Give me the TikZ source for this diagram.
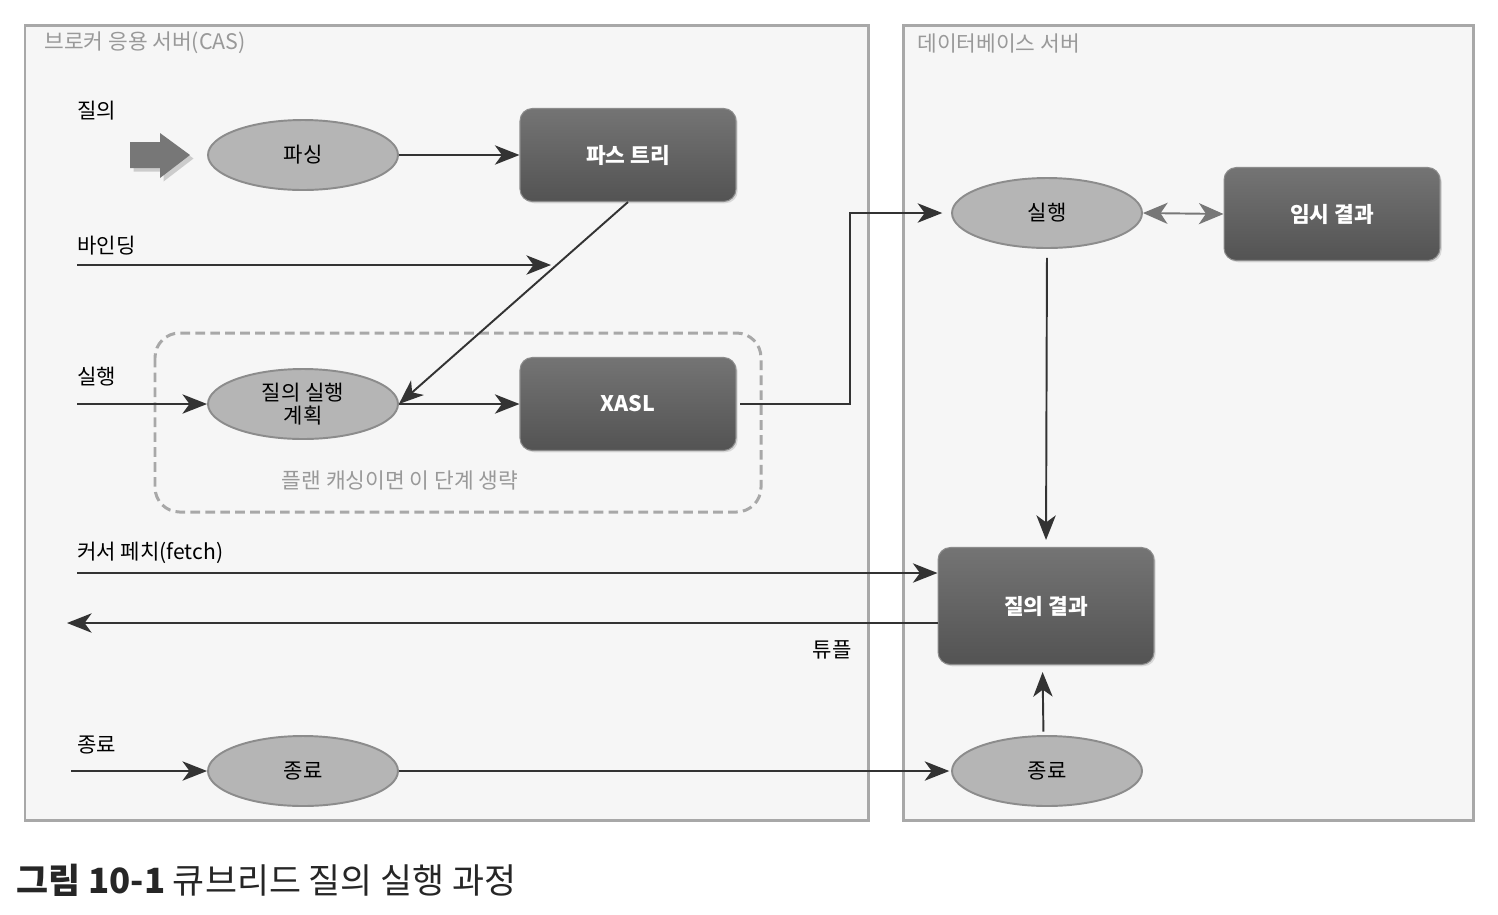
\documentclass[tikz,border=0pt]{standalone}
\usepackage{fontspec}
\setmainfont{Noto Sans CJK KR}
\usepackage{tikz}
\usetikzlibrary{arrows.meta}
\usetikzlibrary{shapes.geometric}
\usetikzlibrary{shadows}
\definecolor{lineC}{HTML}{333333}
\definecolor{panelD}{HTML}{A8A8A8}
\definecolor{panelF}{HTML}{F6F6F6}
\definecolor{ellF}{HTML}{B5B5B5}
\definecolor{ellD}{HTML}{8C8C8C}
\definecolor{boxT}{HTML}{747474}
\definecolor{boxB}{HTML}{535353}
\definecolor{titleC}{HTML}{999999}
\definecolor{fatC}{HTML}{777777}
\tikzset{arr/.style = {draw = lineC, line width = 1.1pt, -{Stealth[length = 14pt, width = 11pt, inset = 4pt]}}}
\tikzset{panel/.style = {draw = panelD, fill = panelF, line width = 1.7pt}}
\tikzset{ell/.style = {ellipse, draw = ellD, fill = ellF, line width = 1.1pt, minimum width = 3.8cm, minimum height = 1.4cm, inner sep = 0, font = \fontsize{12pt}{13.5pt}\selectfont, align = center}}
\tikzset{box/.style = {rectangle, rounded corners = 7pt, draw = ellD, line width = 0.6pt, top color = boxT, bottom color = boxB, minimum width = 4.32cm, minimum height = 1.86cm, text = white, font = \fontsize{12.2pt}{14pt}\selectfont\bfseries, drop shadow = {opacity = 0.25, shadow xshift = 1pt, shadow yshift = -1pt}}}
\tikzset{lbl/.style = {anchor = west, inner sep = 0, font = \fontsize{12pt}{14pt}\selectfont}}
\tikzset{ttl/.style = {anchor = west, inner sep = 0, text = titleC, font = \fontsize{12.2pt}{14pt}\selectfont}}

\begin{document}
\begin{tikzpicture}[x = 0.02cm, y = -0.02cm]
    \useasboundingbox (0, 0) rectangle (1498, 914);

    % panels
    \draw [panel] (25, 25) rectangle (868, 820);
    \draw [panel] (903, 25) rectangle (1473, 820);
    \node [ttl] (casT) at (44, 43) {브로커 응용 서버(CAS)};
    \node [ttl] (dbT) at (917, 43) {데이터베이스 서버};

    % plan caching area
    \draw [draw = panelD, line width = 1.7pt, dash pattern = on 5.5pt off 3pt, rounded corners = 14pt] (155, 333) rectangle (761, 512);
    \node [inner sep = 0, text = titleC, font = \fontsize{12.2pt}{14pt}\selectfont] (skip) at (400, 480) {플랜 캐싱이면 이 단계 생략};

    % nodes
    \node [ell] (parse) at (303, 155) {파싱};
    \node [box] (ptree) at (628, 155) {파스 트리};
    \node [ell] (plan) at (303, 404) {질의 실행\\계획};
    \node [box] (xasl) at (628, 404) {XASL};
    \node [ell] (exec) at (1047, 213) {실행};
    \node [box] (temp) at (1332, 214) {임시 결과};
    \node [box, minimum height = 2.34cm] (result) at (1046, 606) {질의 결과};
    \node [ell] (endL) at (303, 771) {종료};
    \node [ell] (endR) at (1047, 771) {종료};

    % labels
    \node [lbl] (qL) at (77, 111) {질의};
    \node [lbl] (bindL) at (77, 246) {바인딩};
    \node [lbl] (execL) at (77, 377) {실행};
    \node [lbl] (fetchL) at (77, 553) {커서 페치(fetch)};
    \node [lbl] (endLbl) at (77, 745) {종료};
    \node [lbl, anchor = center] (tupleL) at (832, 650) {튜플};

    % fat input arrow
    \fill [fatC, drop shadow = {opacity = 0.35, shadow xshift = 2pt, shadow yshift = -2pt}] (130, 142) -- (160, 142) -- (160, 133) -- (190, 155) -- (160, 178) -- (160, 168) -- (130, 168) -- cycle;

    % free ends
    \coordinate (bindS) at (77, 265);
    \coordinate (bindE) at (551, 265);
    \coordinate (execS) at (77, 404);
    \coordinate (fetchS) at (77, 573);
    \coordinate (tupleE) at (67, 623);
    \coordinate (endS) at (71, 771);

    % connectors
    \draw [arr] (parse.east) -- (ptree.west);
    \draw [arr] (bindS) -- (bindE);
    \draw [arr] (ptree.south) -- (plan.east);
    \draw [arr] (execS) -- (plan.west);
    \draw [arr] (plan.east) -- (xasl.west);
    \draw [arr, shorten > = 5pt] ([xshift = 2pt] xasl.east) -- ++(110, 0) |- (exec.west);
    \draw [draw = fatC, line width = 1.1pt, {Stealth[length = 14pt, width = 12pt, inset = 4pt]}-{Stealth[length = 14pt, width = 12pt, inset = 4pt]}] (exec.east) -- (temp.west);
    \draw [arr, shorten < = 5pt, shorten > = 4pt] (exec.south) -- (result.north);
    \draw [arr] (fetchS) -- (fetchS -| result.west);
    \draw [arr] (tupleE -| result.west) -- (tupleE);
    \draw [arr] (endS) -- (endL.west);
    \draw [arr, shorten > = 1pt] (endL.east) -- (endR.west);
    \draw [arr, shorten < = 2pt, shorten > = 4pt] ([xshift = -2pt] endR.north) -- ([xshift = -2pt] result.south);

    % caption
    \node [anchor = west, inner sep = 0, text = black!85, font = \fontsize{19.8pt}{23pt}\selectfont] (cap) at (16, 880) {\textbf{그림 10-1} 큐브리드 질의 실행 과정};
  \end{tikzpicture}
\end{document}
